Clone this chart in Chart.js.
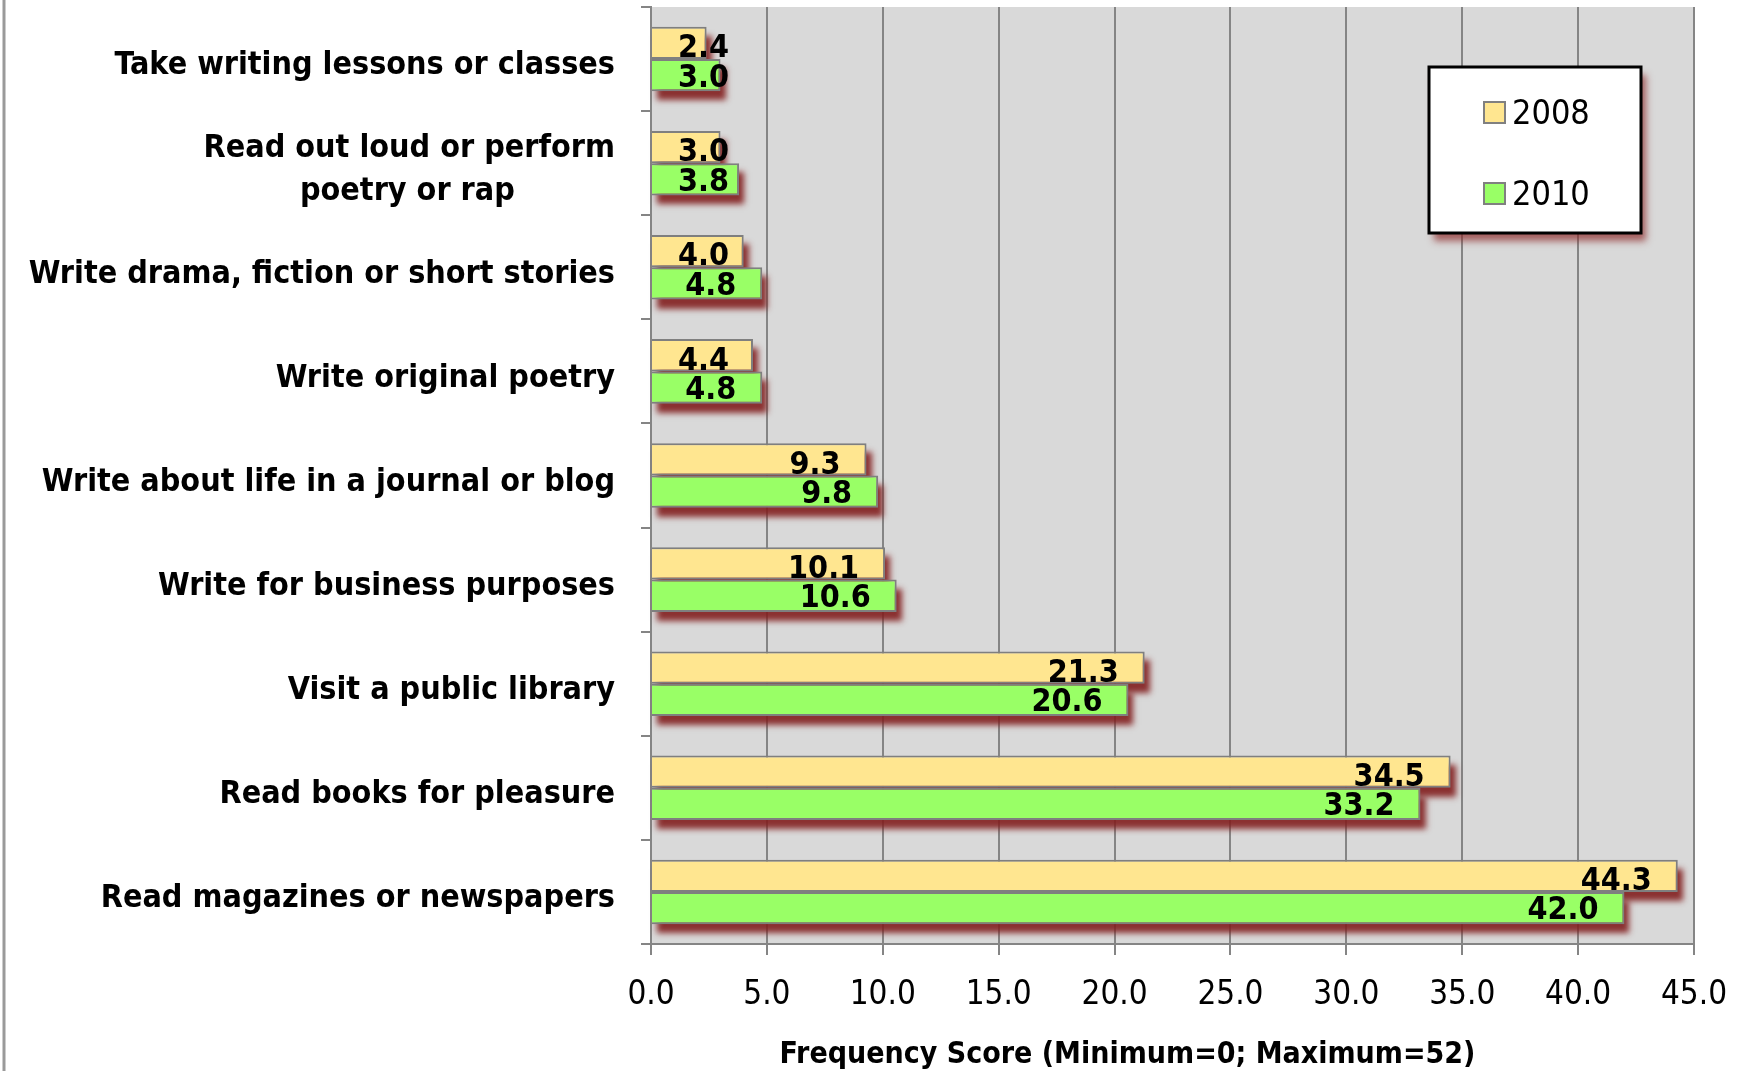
<!DOCTYPE html>
<html>
<head>
<meta charset="utf-8">
<script src="https://cdn.jsdelivr.net/npm/chart.js@4.4.0/dist/chart.umd.min.js"></script>
<style>
  body { margin: 0; background: #fff; }
  #wrap { width: 1746px; height: 1071px; }
</style>
</head>
<body>
<div id="wrap"><canvas id="myChart" width="1746" height="1071"></canvas></div>
<script>
const activities = [
  "Take writing lessons or classes",
  ["Read out loud or perform", "poetry or rap          "],
  "Write drama, fiction or short stories",
  "Write original poetry",
  "Write about life in a journal or blog",
  "Write for business purposes",
  "Visit a public library",
  "Read books for pleasure",
  "Read magazines or newspapers",
];
const years = ["2008", "2010"];
const scores2008 = [2.4, 3.0, 4.0, 4.4, 9.3, 10.1, 21.3, 34.5, 44.3];
const scores2010 = [3.0, 3.8, 4.8, 4.8, 9.8, 10.6, 20.6, 33.2, 42.0];
const axisTitle = "Frequency Score (Minimum=0; Maximum=52)";

const FONT = '"DejaVu Sans Condensed", "DejaVu Sans", sans-serif';

// grey plot background + the thin line at the left edge of the picture
const plotBg = {
  id: "plotBg",
  beforeDraw(chart) {
    const { ctx, chartArea: a } = chart;
    ctx.save();
    ctx.fillStyle = "#d9d9d9";
    ctx.fillRect(a.left, a.top, a.right - a.left, a.bottom - a.top);
    ctx.strokeStyle = "#9a9a9a";
    ctx.lineWidth = 3;
    ctx.beginPath();
    ctx.moveTo(4, 0);
    ctx.lineTo(4, chart.height);
    ctx.stroke();
    ctx.restore();
  },
};

// reddish drop shadow under every bar (only the shadow, bar drawn off screen)
const barShadow = {
  id: "barShadow",
  beforeDatasetsDraw(chart) {
    const ctx = chart.ctx;
    const off = 5000;
    ctx.save();
    ctx.shadowColor = "rgba(130, 30, 30, 0.9)";
    ctx.shadowBlur = 6;
    ctx.shadowOffsetX = 5 + off;
    ctx.shadowOffsetY = 9;
    ctx.fillStyle = "#000";
    chart.data.datasets.forEach((ds, i) => {
      chart.getDatasetMeta(i).data.forEach((bar) => {
        const h = bar.height;
        ctx.fillRect(bar.base - off, bar.y - h / 2, bar.x - bar.base, h);
      });
    });
    ctx.restore();
  },
};

const valueLabels = {
  id: "valueLabels",
  afterDatasetsDraw(chart) {
    const { ctx, chartArea } = chart;
    ctx.save();
    ctx.font = "bold 32px " + FONT;
    ctx.fillStyle = "#000";
    ctx.textAlign = "right";
    ctx.textBaseline = "middle";
    chart.data.datasets.forEach((ds, i) => {
      chart.getDatasetMeta(i).data.forEach((bar, j) => {
        const x = Math.max(bar.x - 26, chartArea.left + 78);
        ctx.fillText(ds.data[j].toFixed(1), x, bar.y + (i === 0 ? 6 : 3));
      });
    });
    ctx.restore();
  },
};

// x axis title, sits a little left of the plot centre like the original
const xTitle = {
  id: "xTitle",
  afterDraw(chart) {
    const { ctx, chartArea: a } = chart;
    ctx.save();
    ctx.font = "bold 30px " + FONT;
    ctx.fillStyle = "#000";
    ctx.textAlign = "center";
    ctx.textBaseline = "middle";
    ctx.fillText(axisTitle, (a.left + a.right) / 2 - 45, chart.height - 16);
    ctx.restore();
  },
};

const boxLegend = {
  id: "boxLegend",
  afterDraw(chart) {
    const { ctx, chartArea } = chart;
    const bx = chartArea.right - 265;
    const by = chartArea.top + 60;
    const bw = 212, bh = 166;
    ctx.save();
    ctx.shadowColor = "rgba(140, 40, 40, 0.7)";
    ctx.shadowBlur = 7;
    ctx.shadowOffsetX = 5;
    ctx.shadowOffsetY = 8;
    ctx.fillStyle = "#fff";
    ctx.fillRect(bx, by, bw, bh);
    ctx.shadowColor = "transparent";
    ctx.strokeStyle = "#000";
    ctx.lineWidth = 3;
    ctx.strokeRect(bx, by, bw, bh);
    ctx.font = "34px " + FONT;
    ctx.textBaseline = "middle";
    ctx.textAlign = "left";
    chart.data.datasets.forEach((ds, i) => {
      const cy = by + 45 + i * 81;
      ctx.fillStyle = ds.backgroundColor;
      ctx.fillRect(bx + 55, cy - 10, 21, 21);
      ctx.strokeStyle = "#808080";
      ctx.lineWidth = 2;
      ctx.strokeRect(bx + 55, cy - 10, 21, 21);
      ctx.fillStyle = "#000";
      ctx.fillText(ds.label, bx + 83, cy + 3);
    });
    ctx.restore();
  },
};

const ctx = document.getElementById("myChart");
new Chart(ctx, {
  type: "bar",
  data: {
    labels: activities,
    datasets: [
      {
        label: years[0],
        data: scores2008,
        backgroundColor: "#ffe690",
        borderColor: "#7f7f7f",
        borderWidth: 2,
      },
      {
        label: years[1],
        data: scores2010,
        backgroundColor: "#99ff66",
        borderColor: "#7f7f7f",
        borderWidth: 2,
      },
    ],
  },
  options: {
    indexAxis: "y",
    responsive: false,
    animation: false,
    categoryPercentage: 0.62,
    barPercentage: 1.0,
    layout: { padding: { top: 7, right: 52, left: 0, bottom: 0 } },
    plugins: {
      legend: { display: false },
      tooltip: { enabled: false },
    },
    scales: {
      x: {
        min: 0,
        max: 45,
        ticks: {
          stepSize: 5,
          callback: (v) => v.toFixed(1),
          color: "#000",
          font: { family: FONT, size: 33 },
          padding: 21,
        },
        grid: { color: "#858585", lineWidth: 2, tickLength: 11 },
        border: { color: "#858585", width: 2 },
        title: { display: false },
        afterFit: (s) => {
          s.height = 127;
          s.paddingLeft = 0;
          s.paddingRight = 0;
        },
      },
      y: {
        ticks: {
          color: "#000",
          font: { family: FONT, size: 32, weight: "bold", lineHeight: 1.35 },
          padding: 26,
          labelOffset: 7,
        },
        grid: { drawOnChartArea: false, color: "#858585", lineWidth: 2, tickLength: 10 },
        border: { color: "#858585", width: 2 },
        afterFit: (s) => {
          s.width = 651;
          s.paddingTop = 0;
          s.paddingBottom = 0;
        },
      },
    },
  },
  plugins: [plotBg, barShadow, valueLabels, xTitle, boxLegend],
});
</script>
</body>
</html>
